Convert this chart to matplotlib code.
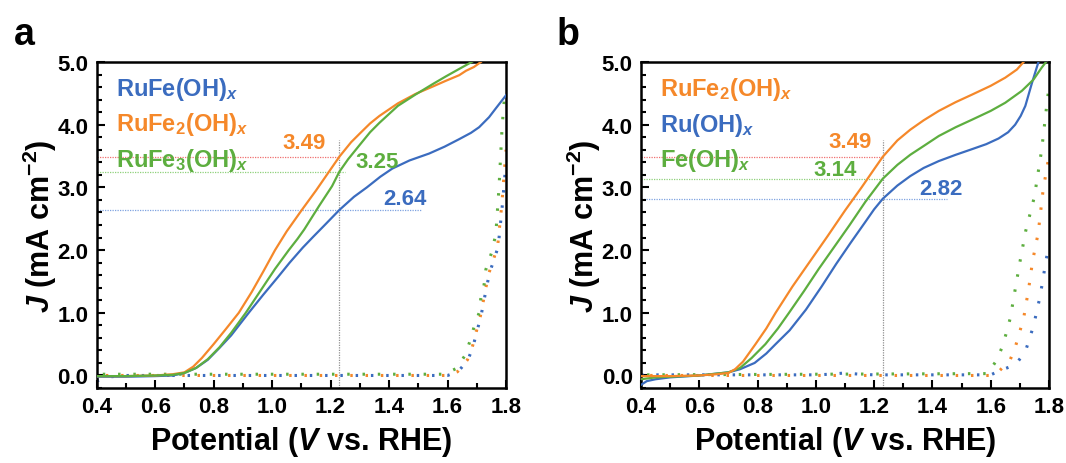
import matplotlib
matplotlib.use("Agg")
import matplotlib.pyplot as plt
from matplotlib.ticker import MultipleLocator, FormatStrFormatter

plt.rcParams['font.family'] = ['Liberation Sans', 'DejaVu Sans']
plt.rcParams['font.weight'] = 'bold'
plt.rcParams['mathtext.fontset'] = 'custom'
plt.rcParams['mathtext.rm'] = 'Liberation Sans:bold'
plt.rcParams['mathtext.it'] = 'Liberation Sans:italic:bold'
plt.rcParams['mathtext.bf'] = 'Liberation Sans:bold'

C_BLUE = '#3b6cbf'
C_ORANGE = '#f5882a'
C_GREEN = '#5dae3f'

# ---------------- Panel a data ----------------
a_orange_v = [0.40, 0.50, 0.60, 0.66, 0.70, 0.73, 0.76, 0.80, 0.84, 0.886, 0.93, 0.97, 1.01, 1.05, 1.10,
              1.15, 1.19, 1.23, 1.27, 1.30, 1.335, 1.367, 1.43, 1.49, 1.55, 1.594, 1.64, 1.663, 1.69, 1.714]
a_orange_j = [-0.01, -0.01, 0.00, 0.02, 0.05, 0.14, 0.28, 0.50, 0.73, 1.00, 1.33, 1.66, 2.00, 2.30, 2.63,
              2.95, 3.22, 3.49, 3.72, 3.86, 4.02, 4.14, 4.34, 4.49, 4.61, 4.70, 4.79, 4.86, 4.92, 5.00]
a_green_v = [0.40, 0.50, 0.60, 0.66, 0.70, 0.74, 0.78, 0.82, 0.86, 0.91, 0.96, 1.01, 1.057, 1.087, 1.11,
             1.16, 1.205, 1.23, 1.26, 1.30, 1.335, 1.367, 1.43, 1.49, 1.55, 1.594, 1.64, 1.69]
a_green_j = [-0.01, -0.01, 0.00, 0.01, 0.04, 0.12, 0.26, 0.45, 0.68, 1.00, 1.35, 1.70, 2.00, 2.18, 2.33,
             2.70, 3.02, 3.25, 3.45, 3.68, 3.88, 4.03, 4.30, 4.48, 4.65, 4.77, 4.89, 5.02]
a_blue_v = [0.40, 0.50, 0.60, 0.66, 0.70, 0.74, 0.78, 0.82, 0.86, 0.92, 0.97, 1.02, 1.06, 1.105, 1.14,
            1.18, 1.23, 1.28, 1.324, 1.37, 1.411, 1.47, 1.537, 1.59, 1.64, 1.68, 1.708, 1.742, 1.765,
            1.785, 1.80]
a_blue_j = [-0.02, -0.02, -0.01, 0.00, 0.04, 0.12, 0.25, 0.44, 0.64, 1.00, 1.29, 1.57, 1.80, 2.04, 2.21,
            2.40, 2.64, 2.85, 3.00, 3.17, 3.30, 3.43, 3.54, 3.65, 3.77, 3.87, 3.96, 4.12, 4.26,
            4.38, 4.47]

a_green_dot_v = [0.40, 1.589, 1.629, 1.66, 1.676, 1.691, 1.708, 1.714, 1.725, 1.731, 1.75, 1.765, 1.776, 1.787, 1.795]
a_green_dot_j = [0.02, 0.02, 0.11, 0.32, 0.54, 0.78, 1.00, 1.24, 1.45, 1.69, 1.95, 2.25, 3.00, 4.00, 4.45]
a_orange_dot_v = [0.40, 1.60, 1.634, 1.668, 1.685, 1.70, 1.712, 1.722, 1.731, 1.742, 1.771, 1.785, 1.80]
a_orange_dot_j = [0.00, 0.00, 0.06, 0.25, 0.46, 0.73, 0.94, 1.18, 1.40, 1.64, 2.05, 2.70, 3.60]
a_blue_dot_v = [0.40, 0.42, 0.45, 0.50, 1.60, 1.636, 1.670, 1.687, 1.702, 1.714, 1.724, 1.733, 1.744, 1.773, 1.787, 1.80]
a_blue_dot_j = [-0.09, -0.05, -0.02, 0.00, 0.00, 0.06, 0.25, 0.46, 0.73, 0.94, 1.18, 1.40, 1.64, 2.05, 2.70, 3.40]

# ---------------- Panel b data ----------------
b_orange_v = [0.40, 0.50, 0.60, 0.66, 0.70, 0.723, 0.75, 0.793, 0.83, 0.862, 0.92, 0.98, 1.04, 1.10,
              1.157, 1.20, 1.23, 1.28, 1.324, 1.37, 1.422, 1.48, 1.536, 1.60, 1.65, 1.69, 1.713]
b_orange_j = [-0.01, -0.01, 0.00, 0.02, 0.04, 0.10, 0.22, 0.50, 0.75, 1.00, 1.42, 1.82, 2.22, 2.63,
              3.00, 3.29, 3.49, 3.75, 3.92, 4.07, 4.22, 4.36, 4.48, 4.62, 4.75, 4.88, 5.00]
b_green_v = [0.40, 0.45, 0.50, 0.60, 0.70, 0.74, 0.78, 0.827, 0.87, 0.908, 0.96, 1.01, 1.06, 1.116,
             1.17, 1.23, 1.28, 1.324, 1.37, 1.422, 1.48, 1.536, 1.60, 1.65, 1.707, 1.747, 1.775, 1.79]
b_green_j = [-0.06, -0.03, -0.02, 0.00, 0.05, 0.12, 0.28, 0.50, 0.75, 1.00, 1.35, 1.70, 2.03, 2.40,
             2.77, 3.14, 3.36, 3.52, 3.66, 3.82, 3.96, 4.08, 4.22, 4.35, 4.54, 4.72, 4.91, 5.00]
b_blue_v = [0.40, 0.42, 0.45, 0.50, 0.60, 0.70, 0.74, 0.79, 0.83, 0.862, 0.91, 0.966, 1.02, 1.07, 1.12,
            1.17, 1.20, 1.23, 1.28, 1.324, 1.37, 1.422, 1.48, 1.536, 1.585, 1.627, 1.66, 1.684,
            1.703, 1.719, 1.742, 1.764]
b_blue_j = [-0.15, -0.09, -0.06, -0.03, 0.00, 0.05, 0.10, 0.20, 0.35, 0.50, 0.72, 1.05, 1.42, 1.78, 2.12,
            2.45, 2.65, 2.82, 3.03, 3.18, 3.31, 3.42, 3.52, 3.61, 3.69, 3.78, 3.88, 4.00,
            4.14, 4.30, 4.67, 5.00]

b_green_dot_v = [0.40, 1.59, 1.62, 1.641, 1.655, 1.667, 1.684, 1.70, 1.72, 1.75, 1.775, 1.792, 1.80]
b_green_dot_j = [0.01, 0.03, 0.24, 0.47, 0.70, 0.91, 1.37, 1.80, 2.30, 2.85, 3.60, 4.29, 4.60]
b_orange_dot_v = [0.40, 1.60, 1.627, 1.667, 1.685, 1.713, 1.73, 1.744, 1.763, 1.78, 1.80]
b_orange_dot_j = [0.00, 0.00, 0.06, 0.25, 0.46, 0.91, 1.37, 1.83, 2.27, 2.96, 3.50]
b_blue_dot_v = [0.40, 1.00, 1.05, 1.10, 1.15, 1.20, 1.60, 1.638, 1.685, 1.719, 1.747, 1.77, 1.787, 1.80]
b_blue_dot_j = [0.01, 0.01, 0.02, 0.04, 0.02, 0.01, 0.01, 0.09, 0.17, 0.38, 0.79, 1.27, 1.75, 2.10]

# reference values at 1.23 V
E_REF = 1.23
a_ref_vals = [3.49, 3.25, 2.64]
a_ref_ends = [1.23, 1.25, 1.51]
b_ref_vals = [3.49, 3.14, 2.82]
b_ref_ends = [1.23, 1.23, 1.45]
REF_TOP = 3.76

a_labels = ['RuFe(OH)$_{x}$', 'RuFe$_{\\mathbf{2}}$(OH)$_{x}$', 'RuFe$_{\\mathbf{3}}$(OH)$_{x}$']
b_labels = ['RuFe$_{\\mathbf{2}}$(OH)$_{x}$', 'Ru(OH)$_{x}$', 'Fe(OH)$_{x}$']

fig = plt.figure(figsize=(10.66, 4.64), dpi=100)
axa = fig.add_axes([0.0907, 0.1616, 0.384, 0.7026])
axb = fig.add_axes([0.6013, 0.1616, 0.3827, 0.7026])

DOT = (0, (0.8, 4.2))


def style(ax):
    ax.set_xlim(0.4, 1.8)
    ax.set_ylim(-0.2, 5.0)
    ax.xaxis.set_major_locator(MultipleLocator(0.2))
    ax.xaxis.set_minor_locator(MultipleLocator(0.1))
    ax.yaxis.set_major_locator(MultipleLocator(1.0))
    ax.yaxis.set_minor_locator(MultipleLocator(0.2))
    ax.xaxis.set_major_formatter(FormatStrFormatter('%.1f'))
    ax.yaxis.set_major_formatter(FormatStrFormatter('%.1f'))
    ax.tick_params(which='both', direction='in', width=1.5, top=False, right=False)
    ax.tick_params(which='major', length=6, labelsize=16, pad=6)
    ax.tick_params(which='minor', length=3.5)
    for s in ax.spines.values():
        s.set_linewidth(1.8)
    for lab in ax.get_xticklabels() + ax.get_yticklabels():
        lab.set_fontweight('bold')
    ax.set_xlabel('Potential ($V$ vs. RHE)', fontsize=22, fontweight='bold', labelpad=5)
    ax.set_ylabel('$J$ (mA cm$^{\\mathbf{-2}}$)', fontsize=22, fontweight='bold', labelpad=-1)


def refs(ax, vals, ends):
    cols = ['#f07070', '#8fd07a', '#7fa3e0']
    for v, e, c in zip(vals, ends, cols):
        ax.plot([0.4, e], [v, v], color=c, lw=0.9, ls=(0, (1, 1)), zorder=1)
    ax.plot([E_REF, E_REF], [-0.2, REF_TOP], color='#909090', lw=0.9, ls=(0, (1, 1)), zorder=1)


# Panel a
style(axa)
refs(axa, a_ref_vals, a_ref_ends)
axa.plot(a_blue_dot_v, a_blue_dot_j, color=C_BLUE, lw=2.2, ls=DOT, zorder=2)
axa.plot(a_orange_dot_v, a_orange_dot_j, color=C_ORANGE, lw=2.2, ls=(2, (0.8, 4.2)), zorder=2)
axa.plot(a_green_dot_v, a_green_dot_j, color=C_GREEN, lw=2.2, ls=(3, (0.8, 4.2)), zorder=2)
axa.plot(a_blue_v, a_blue_j, color=C_BLUE, lw=1.6, zorder=3)
axa.plot(a_orange_v, a_orange_j, color=C_ORANGE, lw=1.6, zorder=3)
axa.plot(a_green_v, a_green_j, color=C_GREEN, lw=1.6, zorder=4)
for lab, y, c in zip(a_labels, [4.58, 4.02, 3.45], [C_BLUE, C_ORANGE, C_GREEN]):
    axa.text(0.465, y, lab, color=c, fontsize=17, fontweight='bold', va='center', ha='left')
axa.text(1.11, 3.72, '3.49', color=C_ORANGE, fontsize=16, fontweight='bold', ha='center', va='center')
axa.text(1.36, 3.41, '3.25', color=C_GREEN, fontsize=16, fontweight='bold', ha='center', va='center')
axa.text(1.455, 2.82, '2.64', color=C_BLUE, fontsize=16, fontweight='bold', ha='center', va='center')

# Panel b
style(axb)
refs(axb, b_ref_vals, b_ref_ends)
axb.plot(b_blue_dot_v, b_blue_dot_j, color=C_BLUE, lw=2.2, ls=DOT, zorder=2)
axb.plot(b_orange_dot_v, b_orange_dot_j, color=C_ORANGE, lw=2.2, ls=(2, (0.8, 4.2)), zorder=2)
axb.plot(b_green_dot_v, b_green_dot_j, color=C_GREEN, lw=2.2, ls=(3, (0.8, 4.2)), zorder=2)
axb.plot(b_blue_v, b_blue_j, color=C_BLUE, lw=1.6, zorder=3)
axb.plot(b_green_v, b_green_j, color=C_GREEN, lw=1.6, zorder=3)
axb.plot(b_orange_v, b_orange_j, color=C_ORANGE, lw=1.6, zorder=4)
for lab, y, c in zip(b_labels, [4.58, 4.0, 3.45], [C_ORANGE, C_BLUE, C_GREEN]):
    axb.text(0.465, y, lab, color=c, fontsize=17, fontweight='bold', va='center', ha='left')
axb.text(1.116, 3.73, '3.49', color=C_ORANGE, fontsize=16, fontweight='bold', ha='center', va='center')
axb.text(1.065, 3.28, '3.14', color=C_GREEN, fontsize=16, fontweight='bold', ha='center', va='center')
axb.text(1.43, 2.99, '2.82', color=C_BLUE, fontsize=16, fontweight='bold', ha='center', va='center')

fig.text(0.013, 0.925, 'a', fontsize=27, fontweight='bold', va='center', ha='left')
fig.text(0.522, 0.925, 'b', fontsize=27, fontweight='bold', va='center', ha='left')

fig.savefig('out.png', dpi=100)
